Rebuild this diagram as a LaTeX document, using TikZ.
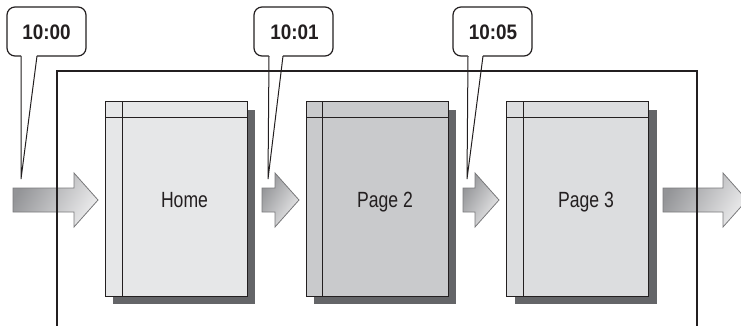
\documentclass[tikz,border=0pt]{standalone}
\usepackage{fontspec}
\setmainfont{Liberation Sans}
\usetikzlibrary{shadows}
\definecolor{ink}{HTML}{231F20}
\definecolor{shadowc}{HTML}{646568}
\definecolor{homefill}{HTML}{E6E7E8}
\definecolor{p2fill}{HTML}{C9CACC}
\definecolor{p3fill}{HTML}{DCDDDF}
\definecolor{arrdark}{HTML}{939497}
\definecolor{arrlight}{HTML}{EBEBEC}
\definecolor{arredge}{HTML}{7A7A7C}
\tikzset{
  pagebox/.style={draw=ink, line width=1pt, minimum width=142pt, minimum height=194pt, inner sep=0pt,
    general shadow={shadow xshift=8pt, shadow yshift=-8pt, fill=shadowc}},
  pagelabel/.style={text=ink, font=\fontsize{22}{22}\selectfont, inner sep=0pt, anchor=base},
  pageline/.style={draw=ink, line width=1pt},
  calloutbox/.style={draw=ink, line width=1.2pt, fill=white, rounded corners=8pt, minimum width=79pt, minimum height=49pt, inner sep=0pt},
  callouttext/.style={text=ink, font=\bfseries\fontsize{21}{21}\selectfont, inner sep=0pt, anchor=base},
  tailline/.style={draw=ink, line width=1pt},
  blockarr/.style={draw=arredge, line width=0.8pt, shading=axis, left color=arrdark, right color=arrlight, shading angle=60},
  frameline/.style={draw=ink, line width=2pt},
}
\newcommand\myblockarrow[3]{%
  \shadedraw[blockarr] (#1,188) -- (#2,188) -- (#2,173) -- (#3,200) -- (#2,227) -- (#2,212) -- (#1,212) -- cycle;}
\newcommand\mytail[5]{%
  \fill[white] (#1,54.5) -- (#2,54.5) -- (#3,#4) -- cycle;
  \draw[tailline] (#1,56) -- (#3,#4) -- (#2,56);}
\newcommand\pagetxt[1]{\scalebox{0.8}[1]{#1}}
\newcommand\timetxt[1]{\scalebox{0.9}[1]{#1}}
\begin{document}
\begin{tikzpicture}[x=1pt,y=-1pt]
\useasboundingbox (0,0) rectangle (741,326);
\clip (0,0) rectangle (741,326);
% pages
\node[pagebox, fill=homefill] (home) at (176,199) {};
\draw[pageline] (122,102) -- (122,296);
\draw[pageline] (105,118) -- (247,118);
\node[pagelabel] (homet) at (184.5,207.8) {\pagetxt{Home}};

\node[pagebox, fill=p2fill] (page2) at (377,199) {};
\draw[pageline] (322,102) -- (322,296);
\draw[pageline] (306,118) -- (448,118);
\node[pagelabel] (page2t) at (385,207.5) {\pagetxt{Page 2}};

\node[pagebox, fill=p3fill] (page3) at (577.5,199) {};
\draw[pageline] (523,102) -- (523,296);
\draw[pageline] (506.5,118) -- (648.5,118);
\node[pagelabel] (page3t) at (586,207.5) {\pagetxt{Page 3}};

% block arrows
\myblockarrow{13}{74}{98}
\myblockarrow{262}{275}{299}
\myblockarrow{463}{475}{499}
\myblockarrow{663}{723}{747}

% callouts
\node[calloutbox] (c1) at (46.5,31.5) {};
\node[callouttext] at (46.5,40) {\timetxt{10:00}};
\mytail{21}{37}{21}{179}{}
\node[calloutbox] (c2) at (293.5,31.5) {};
\node[callouttext] at (294.5,40) {\timetxt{10:01}};
\mytail{269}{283}{268}{179}{}
\node[calloutbox] (c3) at (492.5,31.5) {};
\node[callouttext] at (493,40) {\timetxt{10:05}};
\mytail{468}{483}{467}{179}{}

% frame
\draw[frameline] (57,335) -- (57,71) -- (697,71) -- (697,335);
\end{tikzpicture}
\end{document}
